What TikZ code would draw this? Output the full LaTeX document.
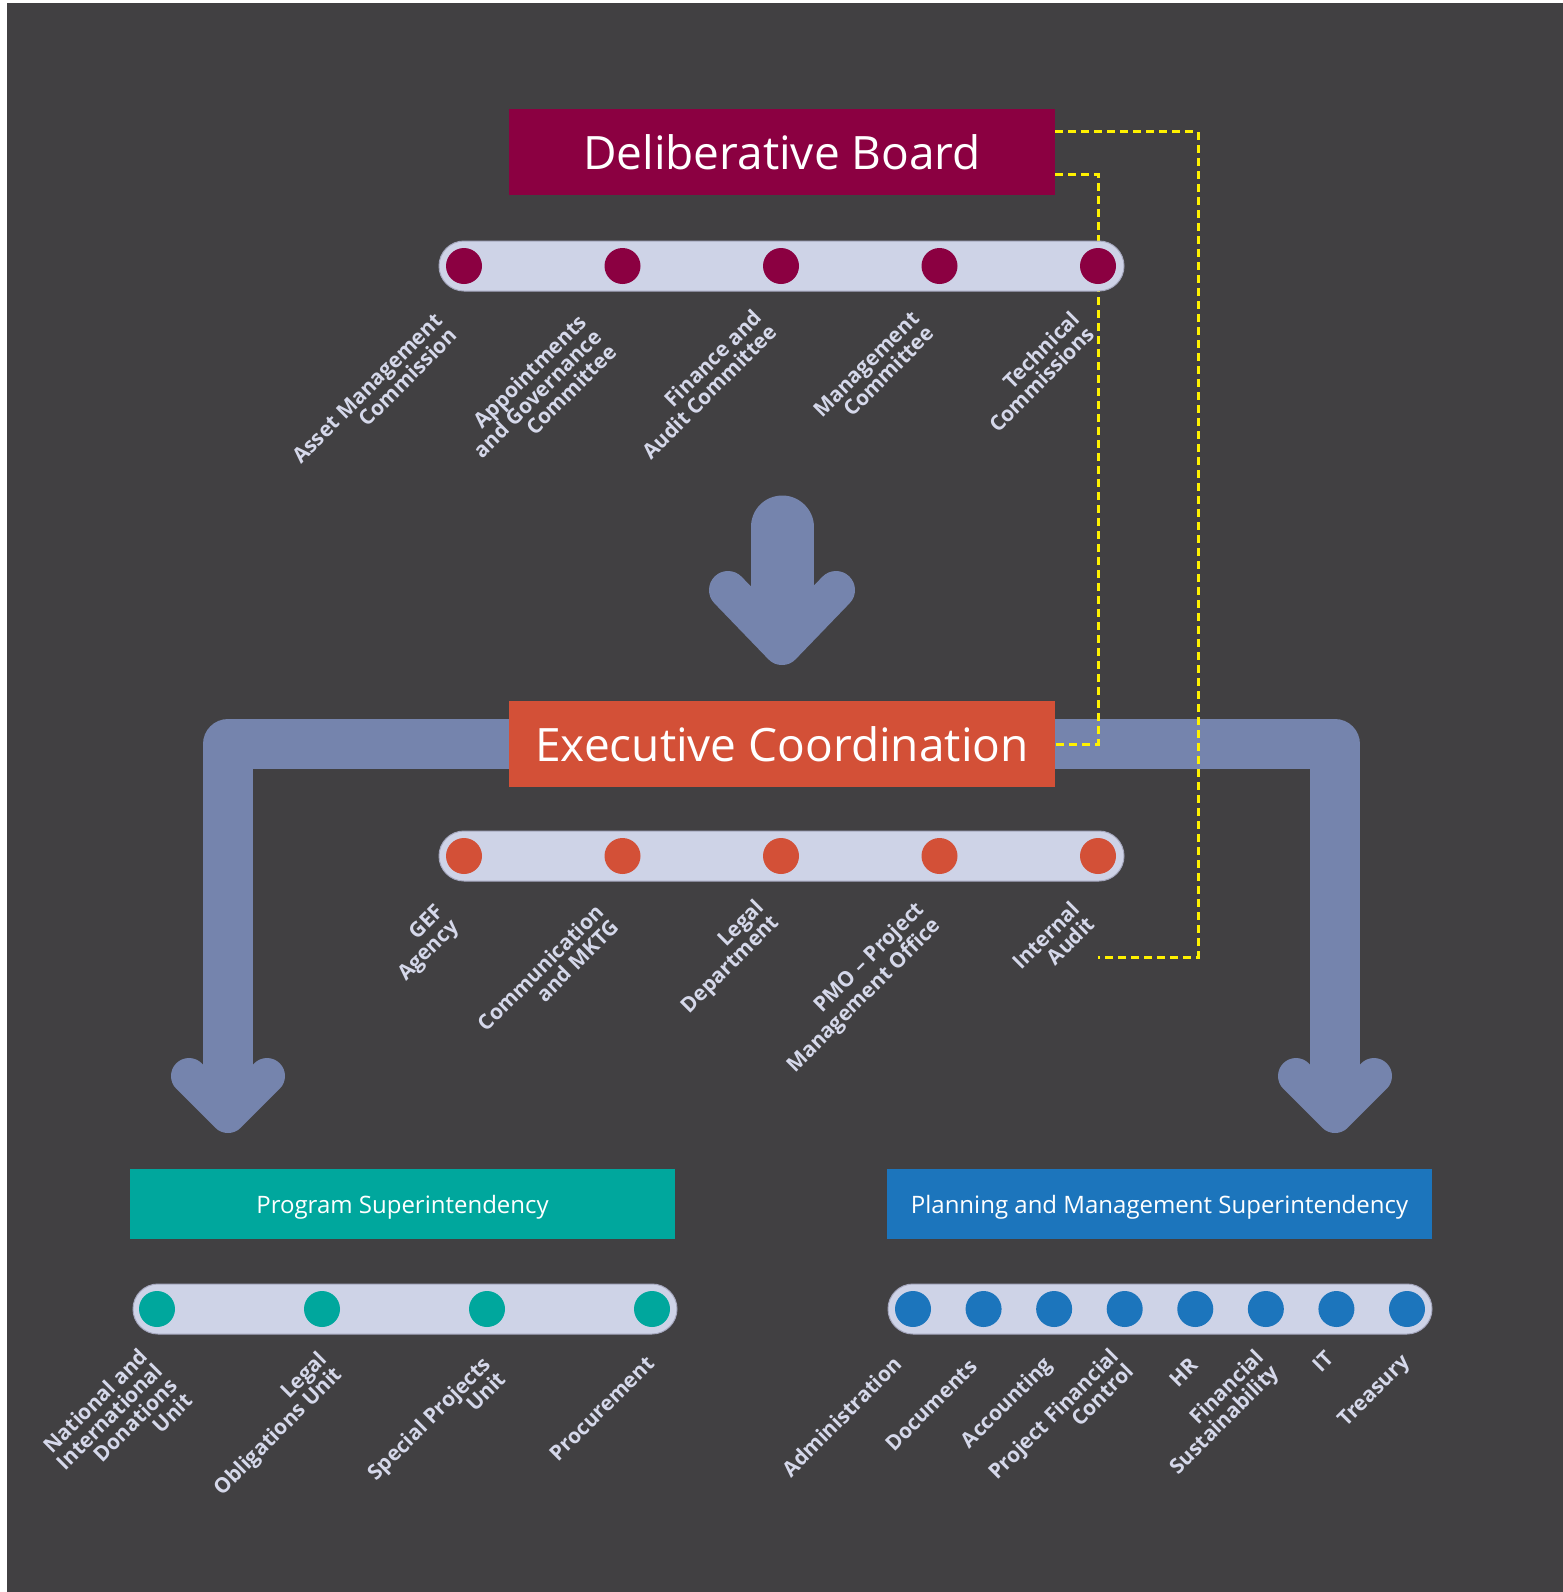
\documentclass[tikz,border=0pt]{standalone}
\usepackage{fontspec}
\setmainfont{Open Sans}
\usepackage{tikz}
\usetikzlibrary{positioning,calc}
\definecolor{pagedark}{HTML}{414042}
\definecolor{boardred}{HTML}{8B0041}
\definecolor{execorange}{HTML}{D35037}
\definecolor{progteal}{HTML}{00A79D}
\definecolor{planblue}{HTML}{1C75BC}
\definecolor{trackfill}{HTML}{CED3E7}
\definecolor{trackline}{HTML}{A6A8BF}
\definecolor{arrowblue}{HTML}{7584AD}
\definecolor{linkyellow}{HTML}{FFF200}
\definecolor{lblcol}{HTML}{D5D8EA}
\pgfdeclarelayer{back}
\pgfdeclarelayer{links}
\pgfsetlayers{back,links,main}

\begin{document}
\begin{tikzpicture}[x=0.5pt,y=-0.5pt,
    titlebox/.style={fill=#1, text=white, minimum width=273pt, minimum height=43pt, inner sep=0pt, font=\fontsize{23}{23}\selectfont},
    unitbox/.style={fill=#1, text=white, minimum width=272.5pt, minimum height=35pt, inner sep=0pt, text depth=0pt, font=\fontsize{12}{12}\selectfont},
    track/.style={fill=trackfill, draw=trackline, line width=0.5pt, rounded corners=12.5pt, minimum height=25pt, inner sep=0pt},
    ball/.style={circle, fill=#1, minimum size=18pt, inner sep=0pt},
    lbl/.style={rotate=45, anchor=north east, align=right, inner sep=0pt, text=lblcol, font=\bfseries\fontsize{10.5}{10.5}\selectfont},
    fatline/.style={draw=arrowblue, line width=25pt, line join=round},
    arrowhd/.style={draw=arrowblue, line width=18pt, line cap=round, line join=round},
    dashlink/.style={draw=linkyellow, line width=1.5pt, dash pattern=on 4pt off 2.5pt}]

    % page
    \begin{pgfonlayer}{back}
        \fill[white] (0,0) rectangle (1563,1592);
        \fill[pagedark] (7,3) rectangle (1563,1592);
    \end{pgfonlayer}

    % Deliberative Board
    \node[titlebox=boardred] (delib) at (782,152) {Deliberative Board};
    \node[track, minimum width=342.5pt] (tdel) at (781.5,266) {};
    \foreach \i in {1,...,5} {
        \node[ball=boardred] (d\i) at (464+158.5*\i-158.5,266) {};
    }
    \node[lbl] (ld1) at (433,311) {Asset Management\\Commission};
    \node[lbl] (ld2) at (577,312) {Appointments\\and Governance\\Committee};
    \node[lbl] (ld3) at (752,307) {Finance and\\Audit Committee};
    \node[lbl] (ld4) at (910,309) {Management\\Committee};
    \node[lbl] (ld5) at (1070,309) {Technical\\Commissions};

    % Executive Coordination
    \node[titlebox=execorange] (exec) at (782,744) {Executive Coordination};
    \node[track, minimum width=342.5pt] (texe) at (781.5,856) {};
    \foreach \i in {1,...,5} {
        \node[ball=execorange] (e\i) at (464+158.5*\i-158.5,856) {};
    }
    \node[lbl] (le1) at (434,902) {GEF\\Agency};
    \node[lbl] (le2) at (594,902) {Communication\\and MKTG};
    \node[lbl] (le3) at (754,897) {Legal\\Department};
    \node[lbl] (le4) at (914,899) {PMO -- Project\\Management Office};
    \node[lbl] (le5) at (1070,899) {Internal\\Audit};

    % Program Superintendency
    \node[unitbox=progteal] (prog) at (402.5,1204) {Program Superintendency};
    \node[track, minimum width=272pt] (tprog) at (405,1309) {};
    \foreach \i in {1,...,4} {
        \node[ball=progteal] (p\i) at (157+165*\i-165,1309) {};
    }
    \node[lbl] (lp1) at (138,1346) {National and\\International\\Donations\\Unit};
    \node[lbl] (lp2) at (317,1349) {Legal\\Obligations Unit};
    \node[lbl] (lp3) at (481,1354) {Special Projects\\Unit};
    \node[lbl] (lp4) at (645,1354) {Procurement};

    % Planning and Management Superintendency
    \node[unitbox=planblue] (plan) at (1159.5,1204) {Planning and Management Superintendency};
    \node[track, minimum width=272pt] (tplan) at (1160,1309) {};
    \foreach \i in {1,...,8} {
        \node[ball=planblue] (m\i) at (913+70.57*\i-70.57,1309) {};
    }
    \node[lbl] (lm1) at (892,1354) {Administration};
    \node[lbl] (lm2) at (968,1357) {Documents};
    \node[lbl] (lm3) at (1042,1354) {Accounting};
    \node[lbl] (lm4) at (1109,1346) {Project Financial\\Control};
    \node[lbl] (lm5) at (1189,1356) {HR};
    \node[lbl] (lm6) at (1254,1347) {Financial\\Sustainability};
    \node[lbl] (lm7) at (1324,1349) {IT};
    \node[lbl] (lm8) at (1400,1352) {Treasury};

    % arrows
    \coordinate (mtop) at (782,527);
    \coordinate (mtip) at (782,646);
    \coordinate (lcor) at (228,744);
    \coordinate (ltip) at (228,1115);
    \coordinate (rcor) at (1335,744);
    \coordinate (rtip) at (1335,1115);
    \begin{pgfonlayer}{back}
        \draw[fatline, line width=31.5pt, line cap=round] (mtop) -- ($(mtip)+(0,-26)$);
        \draw[arrowhd, line width=19pt] ($(mtip)+(-54,-56)$) -- (mtip) -- ($(mtip)+(54,-56)$);
        \draw[fatline] (exec.west) -- (lcor) -- ($(ltip)+(0,-15)$);
        \draw[arrowhd] ($(ltip)+(-39,-39)$) -- (ltip) -- ($(ltip)+(39,-39)$);
        \draw[fatline] (exec.east) -- (rcor) -- ($(rtip)+(0,-15)$);
        \draw[arrowhd] ($(rtip)+(-39,-39)$) -- (rtip) -- ($(rtip)+(39,-39)$);
    \end{pgfonlayer}

    % dashed links
    \coordinate (lkc) at (1198,957);
    \begin{pgfonlayer}{links}
        \draw[dashlink] ($(delib.north east)+(0,23)$) -| (lkc) -- (e5 |- lkc);
        \draw[dashlink] ($(delib.east)+(0,22)$) -| (d5) |- (exec.east);
    \end{pgfonlayer}

\end{tikzpicture}
\end{document}
